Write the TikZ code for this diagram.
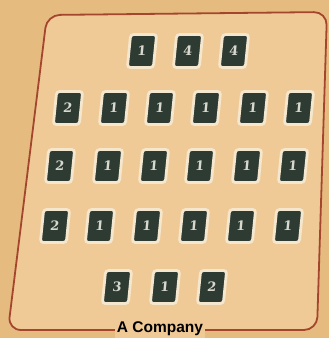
\documentclass[tikz,border=0pt]{standalone}
\usepackage{fontspec}
\newfontfamily\labelfont{Liberation Sans}
\newfontfamily\digitfont{DejaVu Serif}
\definecolor{bgout}{HTML}{E6BB80}
\definecolor{bgin}{HTML}{EFCA96}
\definecolor{framec}{HTML}{A4462E}
\definecolor{tiledark}{HTML}{2D3B33}
\definecolor{halo}{HTML}{F5E7CD}
\definecolor{digit}{HTML}{D8D8CE}
\begin{document}
\begin{tikzpicture}[x=1pt,y=-1pt,
  tile/.style={draw=halo, line width=2.8pt, fill=tiledark, rounded corners=3pt,
    minimum width=26pt, minimum height=33pt, inner sep=0pt,
    xslant=0.1, transform shape, text=digit,
    font=\digitfont\bfseries\fontsize{13}{13}\selectfont},
  framestyle/.style={draw=framec, line width=1.8pt, rounded corners=13pt},
  company/.style={fill=bgin, inner sep=2pt, text=black,
    font=\labelfont\bfseries\fontsize{15.5}{15.5}\selectfont}]
\useasboundingbox (0,0) rectangle (329,338);
\fill[bgout] (0,0) rectangle (329,338);
\path[framestyle, fill=bgin] (47,15) -- (327,12) -- (317,330) -- (8,330) -- cycle;
% row 1
\node[tile] (a1) at (142,51) {1};
\node[tile] (a2) at (188,51) {4};
\node[tile] (a3) at (234,51) {4};
% row 2
\node[tile] (b1) at (68,108) {2};
\node[tile] (b2) at (114,108) {1};
\node[tile] (b3) at (160,108) {1};
\node[tile] (b4) at (206,108) {1};
\node[tile] (b5) at (253,108) {1};
\node[tile] (b6) at (299,108) {1};
% row 3
\node[tile] (c1) at (60,166) {2};
\node[tile] (c2) at (108,166) {1};
\node[tile] (c3) at (154,166) {1};
\node[tile] (c4) at (200,166) {1};
\node[tile] (c5) at (247,166) {1};
\node[tile] (c6) at (293,166) {1};
% row 4
\node[tile] (d1) at (55,226) {2};
\node[tile] (d2) at (100,226) {1};
\node[tile] (d3) at (147,226) {1};
\node[tile] (d4) at (194,226) {1};
\node[tile] (d5) at (241,226) {1};
\node[tile] (d6) at (288,226) {1};
% row 5
\node[tile] (e1) at (117,287) {3};
\node[tile] (e2) at (165,287) {1};
\node[tile] (e3) at (212,287) {2};
% label
\node[company] (lbl) at (160,329) {A Company};
\end{tikzpicture}
\end{document}
